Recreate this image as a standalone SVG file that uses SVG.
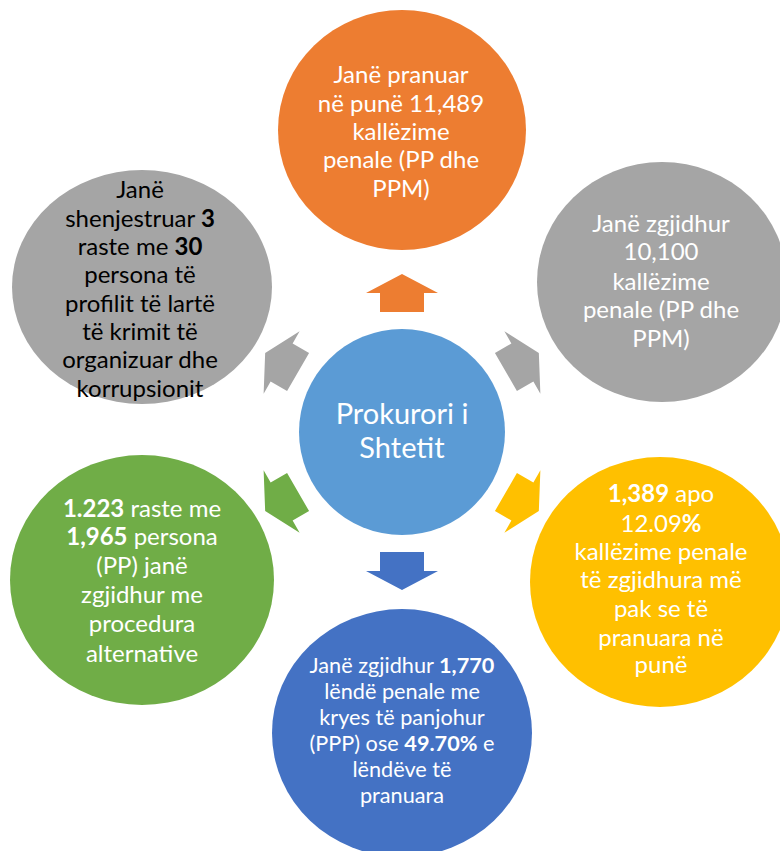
<svg xmlns="http://www.w3.org/2000/svg" width="780" height="851" viewBox="0 0 780 851">
<style>
text{font-family:Lato,"Liberation Sans",sans-serif;font-size:24px;text-anchor:middle;fill:#fff}
.dark{fill:#000}
.b{font-weight:bold}
.sm{font-size:21.7px}
.ctr{font-size:29px}
</style>
<defs>
<path id="arr" d="M380,312 L380,293 L366,293 L402,274 L438,293 L424,293 L424,312 Z"/>
</defs>
<rect width="780" height="851" fill="#fff"/>
<g id="connectors">
<use href="#arr" fill="#ED7D31"/>
<use href="#arr" fill="#A5A5A5" transform="rotate(60 402 432)"/>
<use href="#arr" fill="#FFC000" transform="rotate(120 402 432)"/>
<use href="#arr" fill="#4472C4" transform="rotate(180 402 432)"/>
<use href="#arr" fill="#70AD47" transform="rotate(-120 402 432)"/>
<use href="#arr" fill="#A5A5A5" transform="rotate(-60 402 432)"/>
</g>
<g id="center">
<circle cx="402" cy="432" r="103" fill="#5B9BD5"/>
<text class="ctr" x="402" y="424">Prokurori i</text>
<text class="ctr" x="402" y="458">Shtetit</text>
</g>
<g id="top">
<ellipse cx="402" cy="130" rx="124" ry="120" fill="#ED7D31"/>
<text x="401" y="83">Janë pranuar</text>
<text x="401" y="112">në punë 11,489</text>
<text x="401" y="140">kallëzime</text>
<text x="401" y="168">penale (PP dhe</text>
<text x="401" y="197">PPM)</text>
</g>
<g id="upper-right">
<ellipse cx="662" cy="282" rx="125" ry="120" fill="#A5A5A5"/>
<text x="661" y="232">Janë zgjidhur</text>
<text x="661" y="260">10,100</text>
<text x="661" y="290">kallëzime</text>
<text x="661" y="318">penale (PP dhe</text>
<text x="661" y="347">PPM)</text>
</g>
<g id="lower-right">
<ellipse cx="660" cy="582" rx="130" ry="125" fill="#FFC000"/>
<text x="661" y="502"><tspan class="b">1,389</tspan> apo</text>
<text x="661" y="532">12.09<tspan class="b">%</tspan></text>
<text x="661" y="560">kallëzime penale</text>
<text x="661" y="588">të zgjidhura më</text>
<text x="661" y="617">pak se të</text>
<text x="661" y="646">pranuara në</text>
<text x="661" y="673">punë</text>
</g>
<g id="bottom">
<ellipse cx="402" cy="733" rx="130" ry="124" fill="#4472C4"/>
<text class="sm" x="402" y="673">Janë zgjidhur <tspan class="b">1,770</tspan></text>
<text class="sm" x="402" y="699">lëndë penale me</text>
<text class="sm" x="402" y="725">kryes të panjohur</text>
<text class="sm" x="402" y="751">(PPP) ose <tspan class="b">49.70%</tspan> e</text>
<text class="sm" x="402" y="777">lëndëve të</text>
<text class="sm" x="402" y="803">pranuara</text>
</g>
<g id="lower-left">
<ellipse cx="142" cy="580" rx="132" ry="125" fill="#70AD47"/>
<text x="142" y="517"><tspan class="b">1.223</tspan> raste me</text>
<text x="142" y="545"><tspan class="b">1,965</tspan> persona</text>
<text x="142" y="574">(PP) janë</text>
<text x="142" y="603">zgjidhur me</text>
<text x="142" y="632">procedura</text>
<text x="142" y="662">alternative</text>
</g>
<g id="upper-left">
<ellipse cx="142" cy="287" rx="130" ry="117" fill="#A5A5A5"/>
<text class="dark" x="140" y="198">Janë</text>
<text class="dark" x="140" y="227">shenjestruar <tspan class="b">3</tspan></text>
<text class="dark" x="140" y="255">raste me <tspan class="b">30</tspan></text>
<text class="dark" x="140" y="283">persona të</text>
<text class="dark" x="140" y="312">profilit të lartë</text>
<text class="dark" x="140" y="340">të krimit të</text>
<text class="dark" x="140" y="368">organizuar dhe</text>
<text class="dark" x="140" y="397">korrupsionit</text>
</g>
</svg>
